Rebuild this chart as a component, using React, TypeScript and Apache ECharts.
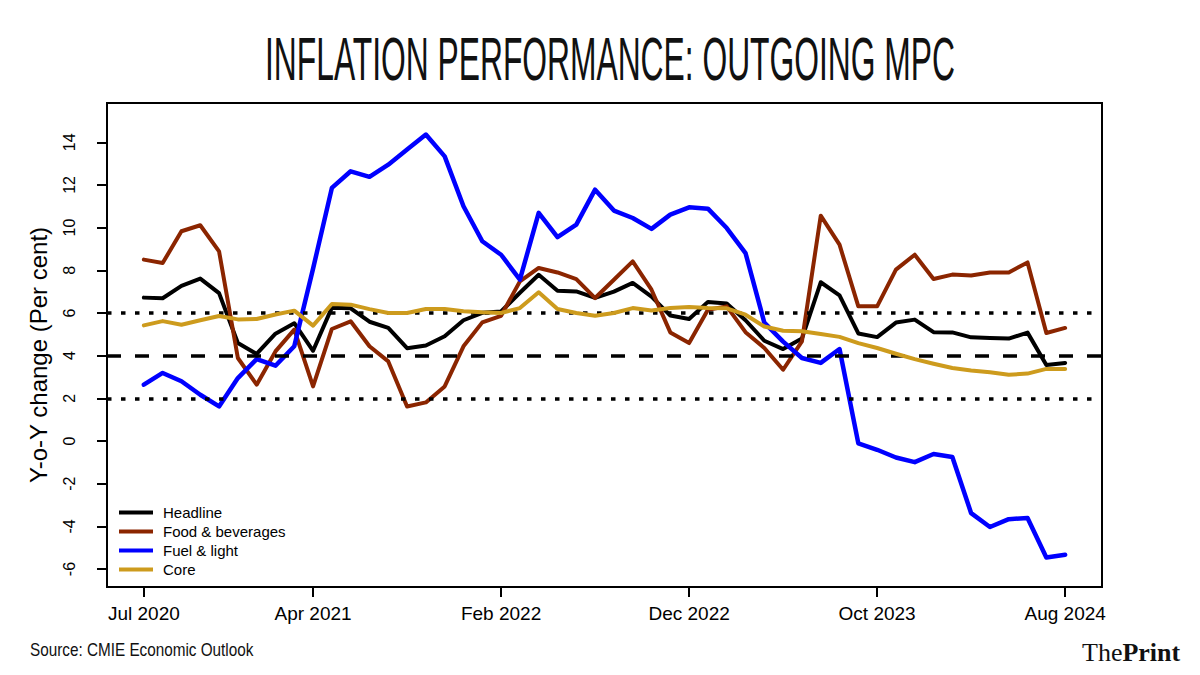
import React, { useEffect, useRef } from "react";
import * as echarts from "echarts";

const months = [
  "Jul 2020", "Aug 2020", "Sep 2020", "Oct 2020", "Nov 2020", "Dec 2020",
  "Jan 2021", "Feb 2021", "Mar 2021", "Apr 2021", "May 2021", "Jun 2021",
  "Jul 2021", "Aug 2021", "Sep 2021", "Oct 2021", "Nov 2021", "Dec 2021",
  "Jan 2022", "Feb 2022", "Mar 2022", "Apr 2022", "May 2022", "Jun 2022",
  "Jul 2022", "Aug 2022", "Sep 2022", "Oct 2022", "Nov 2022", "Dec 2022",
  "Jan 2023", "Feb 2023", "Mar 2023", "Apr 2023", "May 2023", "Jun 2023",
  "Jul 2023", "Aug 2023", "Sep 2023", "Oct 2023", "Nov 2023", "Dec 2023",
  "Jan 2024", "Feb 2024", "Mar 2024", "Apr 2024", "May 2024", "Jun 2024",
  "Jul 2024", "Aug 2024",
];

const xTickIndex = [0, 9, 19, 29, 39, 49];
const yTicks = [-6, -4, -2, 0, 2, 4, 6, 8, 10, 12, 14];

const headline = [
  6.72, 6.69, 7.27, 7.61, 6.93, 4.59, 4.08, 5.03, 5.52, 4.23,
  6.25, 6.22, 5.59, 5.3, 4.35, 4.48, 4.91, 5.66, 6.01, 6.07,
  6.95, 7.79, 7.04, 7.01, 6.71, 7.0, 7.41, 6.77, 5.88, 5.72,
  6.52, 6.44, 5.66, 4.7, 4.31, 4.8, 7.44, 6.83, 5.04, 4.87,
  5.55, 5.69, 5.1, 5.09, 4.86, 4.83, 4.8, 5.08, 3.56, 3.66,
];

const food = [
  8.5, 8.34, 9.83, 10.11, 8.89, 3.89, 2.64, 4.2, 5.22, 2.56,
  5.25, 5.61, 4.44, 3.73, 1.62, 1.81, 2.56, 4.44, 5.56, 5.87,
  7.48, 8.11, 7.9, 7.59, 6.7, 7.56, 8.42, 7.09, 5.09, 4.59,
  6.15, 6.31, 5.1, 4.36, 3.34, 4.67, 10.56, 9.2, 6.31, 6.31,
  8.03, 8.73, 7.59, 7.8, 7.76, 7.9, 7.9, 8.37, 5.06, 5.3,
];

const fuel = [
  2.64, 3.19, 2.8, 2.17, 1.62, 2.95, 3.84, 3.53, 4.44, 8.08,
  11.86, 12.64, 12.38, 12.95, 13.66, 14.36, 13.34, 11.0, 9.36, 8.73,
  7.56, 10.69, 9.55, 10.14, 11.78, 10.8, 10.45, 9.94, 10.61, 10.95,
  10.89, 9.98, 8.81, 5.55, 4.66, 3.89, 3.66, 4.31, -0.11, -0.41,
  -0.77, -0.99, -0.61, -0.75, -3.38, -4.03, -3.66, -3.61, -5.46, -5.33,
];

const core = [
  5.42, 5.62, 5.45, 5.66, 5.86, 5.7, 5.72, 5.93, 6.11, 5.41,
  6.42, 6.39, 6.18, 6.0, 6.0, 6.19, 6.19, 6.08, 6.03, 6.0,
  6.23, 6.97, 6.19, 6.0, 5.87, 6.0, 6.23, 6.12, 6.23, 6.28,
  6.23, 6.22, 5.92, 5.37, 5.17, 5.14, 5.02, 4.88, 4.59, 4.36,
  4.09, 3.84, 3.62, 3.42, 3.31, 3.22, 3.11, 3.16, 3.38, 3.38,
];

const seriesNames = ["Headline", "Food & beverages", "Fuel & light", "Core"];
const seriesColors = ["#000000", "#8B2500", "#0000FF", "#CD9B1D"];
const seriesValues = [headline, food, fuel, core];

const refLines = [
  { value: 6, dash: [4.5, 9.5] },
  { value: 4, dash: [14, 14] },
  { value: 2, dash: [4.5, 9.5] },
];

const FONT = "Liberation Sans, Arial, Helvetica, sans-serif";

export default function App() {
  const ref = useRef<HTMLDivElement>(null);

  useEffect(() => {
    document.body.style.margin = "0";
    if (!ref.current) return;
    const chart = echarts.init(ref.current, null, { renderer: "svg" });

    const series: any[] = seriesNames.map((name, k) => ({
      name,
      type: "line",
      symbol: "none",
      data: seriesValues[k].map((v, i) => [i, v]),
      lineStyle: { color: seriesColors[k], width: k === 2 ? 4.5 : 4, join: "round", cap: "round" },
      itemStyle: { color: seriesColors[k] },
      emphasis: { disabled: true },
      z: 2 + k,
    }));

    series.push({
      name: "ref",
      type: "line",
      data: [],
      z: 10,
      markLine: {
        silent: true,
        symbol: ["none", "none"],
        label: { show: false },
        emphasis: { disabled: true },
        data: refLines.map((r) => ({
          yAxis: r.value,
          lineStyle: { color: "#000", width: 3.5, type: r.dash, cap: "butt" },
        })),
      },
    });

    chart.setOption({
      animation: false,
      backgroundColor: "#ffffff",
      grid: {
        left: 107,
        right: 98,
        top: 103,
        bottom: 88,
        show: true,
        borderColor: "#000",
        borderWidth: 2,
        containLabel: false,
      },
      legend: {
        orient: "vertical",
        left: 119,
        top: 505,
        padding: 0,
        itemWidth: 34,
        itemHeight: 4,
        itemGap: 4,
        icon: "rect",
        selectedMode: false,
        data: seriesNames,
        textStyle: {
          fontSize: 15,
          fontFamily: FONT,
          color: "#000",
          lineHeight: 15,
          padding: [0, 0, 0, 5],
        },
      },
      xAxis: {
        type: "value",
        min: -1.96,
        max: 50.96,
        axisLine: { show: true, onZero: false, lineStyle: { color: "#000", width: 2 } },
        axisTick: {
          show: true,
          customValues: xTickIndex,
          length: 10,
          lineStyle: { color: "#000", width: 2 },
        },
        axisLabel: {
          customValues: xTickIndex,
          formatter: (v: number) => months[Math.round(v)],
          fontSize: 19,
          fontFamily: FONT,
          color: "#000",
          margin: 17,
        },
        splitLine: { show: false },
      },
      yAxis: {
        type: "value",
        min: -6.84,
        max: 15.84,
        axisLine: { show: true, onZero: false, lineStyle: { color: "#000", width: 2 } },
        axisTick: {
          show: true,
          customValues: yTicks,
          length: 10,
          lineStyle: { color: "#000", width: 2 },
        },
        axisLabel: {
          customValues: yTicks,
          rotate: 90,
          fontSize: 16,
          fontFamily: FONT,
          color: "#000",
          margin: 30,
        },
        splitLine: { show: false },
      },
      graphic: [
        {
          type: "text",
          x: 610,
          y: 59,
          scaleX: 0.53,
          scaleY: 1.03,
          silent: true,
          style: {
            text: "INFLATION PERFORMANCE: OUTGOING MPC",
            fontSize: 60,
            fontFamily: FONT,
            fill: "#111",
            textAlign: "center",
            textVerticalAlign: "middle",
            align: "center",
            verticalAlign: "middle",
          },
        },
        {
          type: "text",
          x: 38,
          y: 355,
          rotation: Math.PI / 2,
          silent: true,
          style: {
            text: "Y-o-Y change (Per cent)",
            fontSize: 24,
            fontFamily: FONT,
            fill: "#000",
            textAlign: "center",
            textVerticalAlign: "middle",
            align: "center",
            verticalAlign: "middle",
          },
        },
        {
          type: "text",
          x: 30,
          y: 650,
          scaleX: 0.85,
          silent: true,
          style: {
            text: "Source: CMIE Economic Outlook",
            fontSize: 18,
            fontFamily: FONT,
            fill: "#111",
            textAlign: "left",
            textVerticalAlign: "middle",
            align: "left",
            verticalAlign: "middle",
          },
        },
        {
          type: "text",
          x: 1082,
          y: 652,
          silent: true,
          style: {
            text: "{a|The}{b|Print}",
            rich: {
              a: { fontSize: 26, fontFamily: "Liberation Serif, serif", fill: "#111", color: "#111" },
              b: { fontSize: 26, fontFamily: "Liberation Serif, serif", fontWeight: "bold", fill: "#111", color: "#111" },
            },
            textAlign: "left",
            textVerticalAlign: "middle",
            align: "left",
            verticalAlign: "middle",
          },
        },
      ],
      series,
    });

    return () => chart.dispose();
  }, []);

  return (
    <div
      ref={ref}
      style={{ position: "fixed", left: 0, top: 0, width: 1200, height: 675, background: "#fff" }}
    />
  );
}
